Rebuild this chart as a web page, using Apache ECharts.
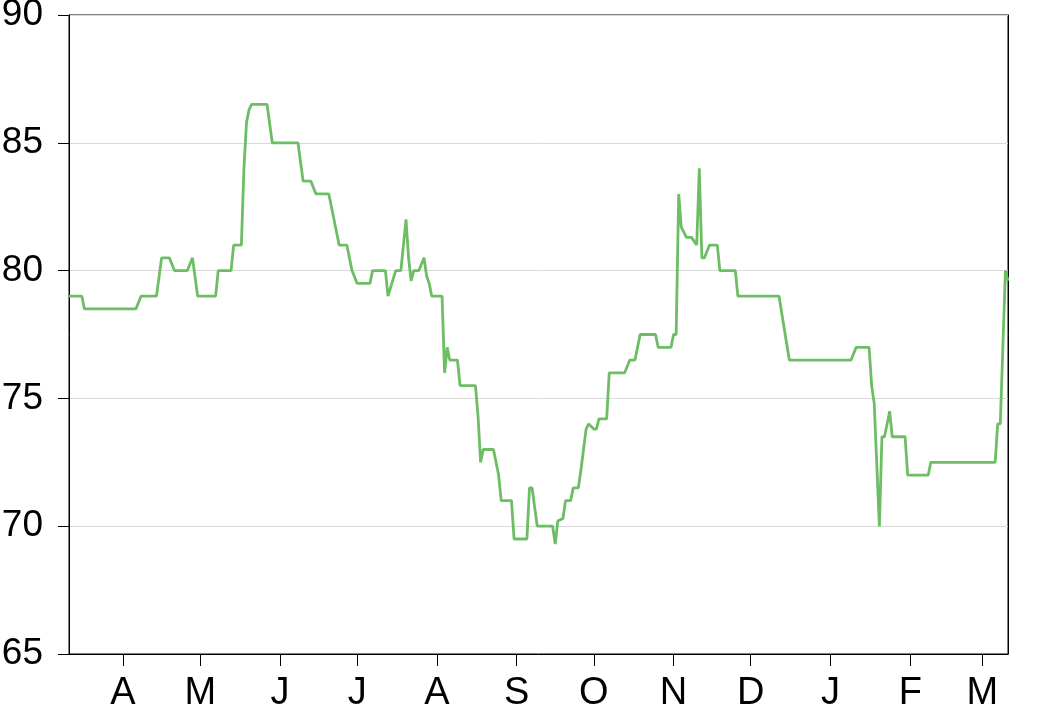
<!DOCTYPE html>
<html>
<head>
<meta charset="utf-8">
<script src="https://cdn.jsdelivr.net/npm/echarts@6/dist/echarts.min.js"></script>
<style>
html,body{margin:0;padding:0;background:#fff;}
#chart{width:1040px;height:708px;}
</style>
</head>
<body>
<div id="chart"></div>
<script>
const dates = [
'2018-03-11','2018-03-16','2018-03-17','2018-04-06','2018-04-08','2018-04-14','2018-04-16','2018-04-19','2018-04-21','2018-04-26',
'2018-04-28','2018-04-30','2018-05-07','2018-05-08','2018-05-13','2018-05-14','2018-05-17','2018-05-18','2018-05-19','2018-05-20',
'2018-05-21','2018-05-27','2018-05-29','2018-06-08','2018-06-10','2018-06-13','2018-06-15','2018-06-20','2018-06-22','2018-06-24',
'2018-06-27','2018-06-29','2018-07-01','2018-07-06','2018-07-07','2018-07-12','2018-07-13','2018-07-16','2018-07-18','2018-07-20',
'2018-07-21','2018-07-22','2018-07-23','2018-07-25','2018-07-27','2018-07-28','2018-07-29','2018-07-30','2018-08-03','2018-08-04',
'2018-08-05','2018-08-06','2018-08-09','2018-08-10','2018-08-16','2018-08-17','2018-08-18','2018-08-19','2018-08-23','2018-08-25',
'2018-08-26','2018-08-30','2018-08-31','2018-09-05','2018-09-06','2018-09-07','2018-09-09','2018-09-15','2018-09-16','2018-09-17',
'2018-09-19','2018-09-20','2018-09-22','2018-09-23','2018-09-25','2018-09-26','2018-09-28','2018-09-29','2018-10-01','2018-10-02',
'2018-10-03','2018-10-06','2018-10-07','2018-10-13','2018-10-15','2018-10-17','2018-10-19','2018-10-25','2018-10-26','2018-10-31',
'2018-11-01','2018-11-02','2018-11-03','2018-11-04','2018-11-06','2018-11-08','2018-11-10','2018-11-11','2018-11-12','2018-11-13',
'2018-11-15','2018-11-18','2018-11-19','2018-11-25','2018-11-26','2018-12-12','2018-12-16','2019-01-09','2019-01-11','2019-01-16',
'2019-01-17','2019-01-18','2019-01-20','2019-01-21','2019-01-22','2019-01-24','2019-01-25','2019-01-30','2019-01-31','2019-02-08',
'2019-02-09','2019-03-06','2019-03-07','2019-03-08','2019-03-09','2019-03-10','2019-03-11'
];
const values = [
79,79,78.5,78.5,79,79,80.5,80.5,80,80,
80.5,79,79,80,80,81,81,84,85.8,86.3,
86.5,86.5,85,85,83.5,83.5,83,83,82,81,
81,80,79.5,79.5,80,80,79,80,80,82,
80.5,79.6,80,80,80.5,79.8,79.5,79,79,76,
77,76.5,76.5,75.5,75.5,74.3,72.5,73,73,72,
71,71,69.5,69.5,71.5,71.5,70,70,69.3,70.2,
70.3,71,71,71.5,71.5,72.2,73.8,74,73.8,73.8,
74.2,74.2,76,76,76.5,76.5,77.5,77.5,77,77,
77.5,77.5,83,81.7,81.3,81.3,81,84,80.5,80.5,
81,81,80,80,79,79,76.5,76.5,77,77,
75.5,74.8,70,73.5,73.5,74.5,73.5,73.5,72,72,
72.5,72.5,74,74,77,80,79.6
];
const monthTicks = ['2018-04-01','2018-05-01','2018-06-01','2018-07-01','2018-08-01','2018-09-01','2018-10-01','2018-11-01','2018-12-01','2019-01-01','2019-02-01','2019-03-01'];
const monthLabels = ['A','M','J','J','A','S','O','N','D','J','F','M'];
const xMin = '2018-03-11';
const xMax = '2019-03-11';
const yTicks = [65,70,75,80,85,90];

function ts(s){ const p = s.split('-').map(Number); return Date.UTC(p[0], p[1]-1, p[2]); }
const tickTs = monthTicks.map(ts);
const seriesData = dates.map((d,i)=>[ts(d), values[i]]);
const yMin = yTicks[0], yMax = yTicks[yTicks.length-1];

const chart = echarts.init(document.getElementById('chart'), null, {renderer:'canvas'});
chart.setOption({
  animation:false,
  backgroundColor:'#fff',
  grid:{left:69,right:32,top:15,bottom:54,show:true,borderColor:'#000',borderWidth:1,containLabel:false,outerBoundsMode:'none'},
  xAxis:[{
    type:'value',
    min:ts(xMin), max:ts(xMax),
    axisLine:{show:true,onZero:false,lineStyle:{color:'#000',width:1}},
    axisTick:{show:true,inside:false,length:12,lineStyle:{color:'#000',width:1},customValues:tickTs},
    axisLabel:{
      customValues:tickTs,
      margin:21,
      fontFamily:'Liberation Sans, Arial, sans-serif',
      fontSize:38,
      color:'#000',
      showMinLabel:true, showMaxLabel:true,
      formatter:function(v){ const i = tickTs.indexOf(v); return i>=0 ? monthLabels[i] : ''; }
    },
    splitLine:{show:false}
  }],
  yAxis:[{
    type:'value',
    min:yMin, max:yMax, interval:5,
    axisLine:{show:true,lineStyle:{color:'#000',width:1}},
    axisTick:{show:true,inside:false,length:11,lineStyle:{color:'#000',width:1}},
    axisLabel:{margin:26,fontFamily:'Liberation Sans, Arial, sans-serif',fontSize:37,color:'#000'},
    splitLine:{show:true,lineStyle:{color:'#d9d9d9',width:1}}
  },{
    type:'value',
    position:'right',
    min:yMin, max:yMax, interval:5,
    axisLine:{show:true,lineStyle:{color:'#000',width:1}},
    axisTick:{show:false},
    axisLabel:{show:false},
    splitLine:{show:false}
  }],
  series:[{
    type:'line',
    data:seriesData,
    showSymbol:false,
    symbol:'none',
    lineStyle:{color:'#6cbd64',width:2.8},
    clip:true
  }]
});
</script>
</body>
</html>
